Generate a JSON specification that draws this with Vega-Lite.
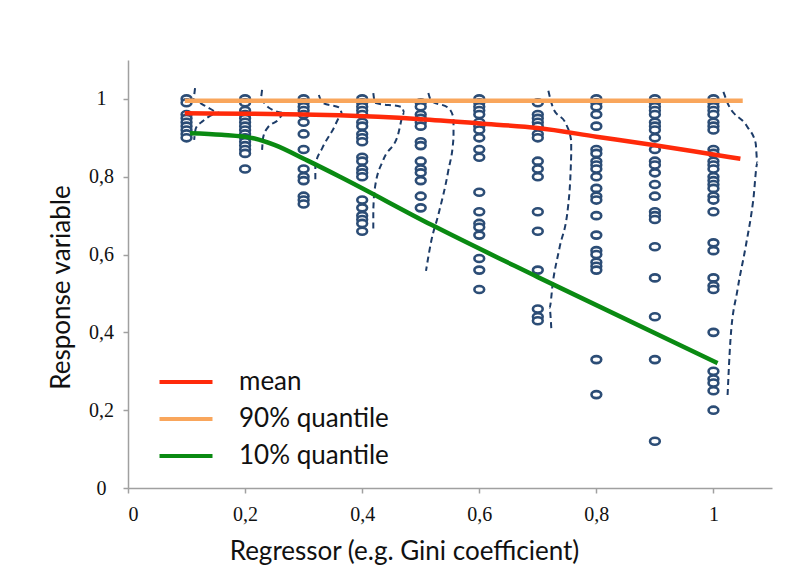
{
  "$schema": "https://vega.github.io/schema/vega-lite/v6.json",
  "width": 644,
  "height": 428,
  "autosize": {"type": "none"},
  "padding": {"left": 128, "top": 60, "right": 18, "bottom": 91},
  "background": "white",
  "config": {
    "view": {"stroke": null},
    "axis": {
      "grid": false,
      "domainColor": "#a0a0a0",
      "domainWidth": 1.5,
      "tickColor": "#a0a0a0",
      "tickWidth": 1.5,
      "tickSize": 5,
      "labelFont": "Liberation Serif",
      "labelFontSize": 20,
      "labelColor": "#111111",
      "titleFont": "Lato",
      "titleFontSize": 26,
      "titleFontWeight": "normal",
      "titleColor": "#111111"
    }
  },
  "datasets": {
    "pts": [
      {"x":0.1,"y":1.0},{"x":0.1,"y":0.99},{"x":0.1,"y":0.96},{"x":0.1,"y":0.95},{"x":0.1,"y":0.94},{"x":0.1,"y":0.93},{"x":0.1,"y":0.92},{"x":0.1,"y":0.91},{"x":0.1,"y":0.90},
      {"x":0.2,"y":1.0},{"x":0.2,"y":0.99},{"x":0.2,"y":0.97},{"x":0.2,"y":0.96},{"x":0.2,"y":0.95},{"x":0.2,"y":0.94},{"x":0.2,"y":0.93},{"x":0.2,"y":0.92},{"x":0.2,"y":0.91},{"x":0.2,"y":0.90},{"x":0.2,"y":0.89},{"x":0.2,"y":0.88},{"x":0.2,"y":0.87},{"x":0.2,"y":0.86},{"x":0.2,"y":0.82},
      {"x":0.3,"y":1.0},{"x":0.3,"y":0.99},{"x":0.3,"y":0.98},{"x":0.3,"y":0.97},{"x":0.3,"y":0.96},{"x":0.3,"y":0.94},{"x":0.3,"y":0.91},{"x":0.3,"y":0.87},{"x":0.3,"y":0.82},{"x":0.3,"y":0.80},{"x":0.3,"y":0.79},{"x":0.3,"y":0.75},{"x":0.3,"y":0.74},{"x":0.3,"y":0.73},
      {"x":0.4,"y":1.0},{"x":0.4,"y":0.99},{"x":0.4,"y":0.98},{"x":0.4,"y":0.97},{"x":0.4,"y":0.96},{"x":0.4,"y":0.94},{"x":0.4,"y":0.93},{"x":0.4,"y":0.91},{"x":0.4,"y":0.90},{"x":0.4,"y":0.89},{"x":0.4,"y":0.85},{"x":0.4,"y":0.84},{"x":0.4,"y":0.82},{"x":0.4,"y":0.81},{"x":0.4,"y":0.80},{"x":0.4,"y":0.74},{"x":0.4,"y":0.72},{"x":0.4,"y":0.70},{"x":0.4,"y":0.69},{"x":0.4,"y":0.68},{"x":0.4,"y":0.66},
      {"x":0.5,"y":0.99},{"x":0.5,"y":0.98},{"x":0.5,"y":0.96},{"x":0.5,"y":0.95},{"x":0.5,"y":0.94},{"x":0.5,"y":0.93},{"x":0.5,"y":0.89},{"x":0.5,"y":0.88},{"x":0.5,"y":0.84},{"x":0.5,"y":0.82},{"x":0.5,"y":0.81},{"x":0.5,"y":0.79},{"x":0.5,"y":0.75},{"x":0.5,"y":0.72},
      {"x":0.6,"y":1.0},{"x":0.6,"y":0.99},{"x":0.6,"y":0.98},{"x":0.6,"y":0.97},{"x":0.6,"y":0.96},{"x":0.6,"y":0.94},{"x":0.6,"y":0.93},{"x":0.6,"y":0.92},{"x":0.6,"y":0.90},{"x":0.6,"y":0.87},{"x":0.6,"y":0.85},{"x":0.6,"y":0.76},{"x":0.6,"y":0.71},{"x":0.6,"y":0.68},{"x":0.6,"y":0.67},{"x":0.6,"y":0.65},{"x":0.6,"y":0.59},{"x":0.6,"y":0.56},{"x":0.6,"y":0.51},
      {"x":0.7,"y":0.99},{"x":0.7,"y":0.96},{"x":0.7,"y":0.95},{"x":0.7,"y":0.94},{"x":0.7,"y":0.93},{"x":0.7,"y":0.91},{"x":0.7,"y":0.90},{"x":0.7,"y":0.84},{"x":0.7,"y":0.82},{"x":0.7,"y":0.80},{"x":0.7,"y":0.71},{"x":0.7,"y":0.66},{"x":0.7,"y":0.56},{"x":0.7,"y":0.46},{"x":0.7,"y":0.44},{"x":0.7,"y":0.43},
      {"x":0.8,"y":1.0},{"x":0.8,"y":0.99},{"x":0.8,"y":0.98},{"x":0.8,"y":0.96},{"x":0.8,"y":0.93},{"x":0.8,"y":0.87},{"x":0.8,"y":0.86},{"x":0.8,"y":0.84},{"x":0.8,"y":0.83},{"x":0.8,"y":0.82},{"x":0.8,"y":0.80},{"x":0.8,"y":0.77},{"x":0.8,"y":0.75},{"x":0.8,"y":0.74},{"x":0.8,"y":0.70},{"x":0.8,"y":0.65},{"x":0.8,"y":0.61},{"x":0.8,"y":0.60},{"x":0.8,"y":0.58},{"x":0.8,"y":0.57},{"x":0.8,"y":0.56},{"x":0.8,"y":0.33},{"x":0.8,"y":0.24},
      {"x":0.9,"y":1.0},{"x":0.9,"y":0.99},{"x":0.9,"y":0.98},{"x":0.9,"y":0.97},{"x":0.9,"y":0.96},{"x":0.9,"y":0.94},{"x":0.9,"y":0.93},{"x":0.9,"y":0.92},{"x":0.9,"y":0.90},{"x":0.9,"y":0.87},{"x":0.9,"y":0.84},{"x":0.9,"y":0.83},{"x":0.9,"y":0.81},{"x":0.9,"y":0.78},{"x":0.9,"y":0.75},{"x":0.9,"y":0.71},{"x":0.9,"y":0.70},{"x":0.9,"y":0.69},{"x":0.9,"y":0.62},{"x":0.9,"y":0.54},{"x":0.9,"y":0.44},{"x":0.9,"y":0.33},{"x":0.9,"y":0.12},
      {"x":1.0,"y":1.0},{"x":1.0,"y":0.99},{"x":1.0,"y":0.98},{"x":1.0,"y":0.97},{"x":1.0,"y":0.96},{"x":1.0,"y":0.94},{"x":1.0,"y":0.93},{"x":1.0,"y":0.92},{"x":1.0,"y":0.87},{"x":1.0,"y":0.86},{"x":1.0,"y":0.84},{"x":1.0,"y":0.83},{"x":1.0,"y":0.82},{"x":1.0,"y":0.80},{"x":1.0,"y":0.79},{"x":1.0,"y":0.78},{"x":1.0,"y":0.77},{"x":1.0,"y":0.75},{"x":1.0,"y":0.74},{"x":1.0,"y":0.71},{"x":1.0,"y":0.63},{"x":1.0,"y":0.61},{"x":1.0,"y":0.54},{"x":1.0,"y":0.52},{"x":1.0,"y":0.51},{"x":1.0,"y":0.40},{"x":1.0,"y":0.30},{"x":1.0,"y":0.28},{"x":1.0,"y":0.27},{"x":1.0,"y":0.25},{"x":1.0,"y":0.20}
    ],
    "curves": [
      {"c":1,"i":1,"x":0.1145,"y":1.028},{"c":1,"i":2,"x":0.111,"y":0.997},{"c":1,"i":3,"x":0.132,"y":0.982},{"c":1,"i":4,"x":0.157,"y":0.964},{"c":1,"i":5,"x":0.128,"y":0.943},{"c":1,"i":6,"x":0.116,"y":0.925},{"c":1,"i":7,"x":0.113,"y":0.895},
      {"c":2,"i":1,"x":0.229,"y":1.023},{"c":2,"i":2,"x":0.226,"y":0.997},{"c":2,"i":3,"x":0.240,"y":0.978},{"c":2,"i":4,"x":0.268,"y":0.964},{"c":2,"i":5,"x":0.255,"y":0.944},{"c":2,"i":6,"x":0.238,"y":0.925},{"c":2,"i":7,"x":0.231,"y":0.902},{"c":2,"i":8,"x":0.229,"y":0.869},
      {"c":3,"i":1,"x":0.326,"y":1.010},{"c":3,"i":2,"x":0.332,"y":0.990},{"c":3,"i":3,"x":0.362,"y":0.977},{"c":3,"i":4,"x":0.366,"y":0.960},{"c":3,"i":5,"x":0.349,"y":0.918},{"c":3,"i":6,"x":0.332,"y":0.874},{"c":3,"i":7,"x":0.320,"y":0.830},{"c":3,"i":8,"x":0.320,"y":0.789},
      {"c":4,"i":1,"x":0.419,"y":1.015},{"c":4,"i":2,"x":0.422,"y":0.990},{"c":4,"i":3,"x":0.468,"y":0.979},{"c":4,"i":4,"x":0.472,"y":0.964},{"c":4,"i":5,"x":0.460,"y":0.902},{"c":4,"i":6,"x":0.436,"y":0.843},{"c":4,"i":7,"x":0.422,"y":0.774},{"c":4,"i":8,"x":0.419,"y":0.715},{"c":4,"i":9,"x":0.419,"y":0.656},
      {"c":5,"i":1,"x":0.513,"y":1.015},{"c":5,"i":2,"x":0.518,"y":0.995},{"c":5,"i":3,"x":0.547,"y":0.977},{"c":5,"i":4,"x":0.556,"y":0.951},{"c":5,"i":5,"x":0.556,"y":0.900},{"c":5,"i":6,"x":0.547,"y":0.815},{"c":5,"i":7,"x":0.530,"y":0.702},{"c":5,"i":8,"x":0.518,"y":0.635},{"c":5,"i":9,"x":0.509,"y":0.558},
      {"c":6,"i":1,"x":0.718,"y":1.021},{"c":6,"i":2,"x":0.726,"y":0.977},{"c":6,"i":3,"x":0.749,"y":0.933},{"c":6,"i":4,"x":0.757,"y":0.892},{"c":6,"i":5,"x":0.757,"y":0.856},{"c":6,"i":6,"x":0.752,"y":0.728},{"c":6,"i":7,"x":0.737,"y":0.617},{"c":6,"i":8,"x":0.726,"y":0.532},{"c":6,"i":9,"x":0.720,"y":0.463},{"c":6,"i":10,"x":0.723,"y":0.411},
      {"c":7,"i":1,"x":1.017,"y":1.018},{"c":7,"i":2,"x":1.024,"y":0.990},{"c":7,"i":3,"x":1.058,"y":0.928},{"c":7,"i":4,"x":1.072,"y":0.887},{"c":7,"i":5,"x":1.075,"y":0.835},{"c":7,"i":6,"x":1.068,"y":0.740},{"c":7,"i":7,"x":1.055,"y":0.620},{"c":7,"i":8,"x":1.041,"y":0.509},{"c":7,"i":9,"x":1.029,"y":0.380},{"c":7,"i":10,"x":1.024,"y":0.234}
    ],
    "stats": [
      {"series":"mean","x":0.097,"y":0.963},{"series":"mean","x":0.2,"y":0.962},{"series":"mean","x":0.3,"y":0.960},{"series":"mean","x":0.36,"y":0.958},{"series":"mean","x":0.5,"y":0.948},{"series":"mean","x":0.6,"y":0.937},{"series":"mean","x":0.7,"y":0.925},{"series":"mean","x":0.8,"y":0.903},{"series":"mean","x":0.9,"y":0.881},{"series":"mean","x":1.0,"y":0.857},{"series":"mean","x":1.046,"y":0.846},
      {"series":"90% quantile","x":0.097,"y":0.995},{"series":"90% quantile","x":1.05,"y":0.995},
      {"series":"10% quantile","x":0.106,"y":0.912},{"series":"10% quantile","x":0.16,"y":0.908},{"series":"10% quantile","x":0.214,"y":0.899},{"series":"10% quantile","x":0.25,"y":0.882},{"series":"10% quantile","x":0.306,"y":0.842},{"series":"10% quantile","x":0.362,"y":0.800},{"series":"10% quantile","x":0.52,"y":0.675},{"series":"10% quantile","x":0.70,"y":0.542},{"series":"10% quantile","x":1.007,"y":0.321}
    ]
  },
  "encoding": {
    "x": {
      "field": "x", "type": "quantitative",
      "scale": {"domain": [0, 1.1], "nice": false, "zero": false},
      "axis": {
        "title": "Regressor (e.g. Gini coefficient)",
        "values": [0, 0.2, 0.4, 0.6, 0.8, 1],
        "labelExpr": "replace(format(datum.value, '~g'), '.', ',')",
        "labelPadding": 11,
        "titleAnchor": null,
        "titleX": 276,
        "titleY": 50
      }
    },
    "y": {
      "field": "y", "type": "quantitative",
      "scale": {"domain": [0, 1.1], "nice": false, "zero": false},
      "axis": {
        "title": "Response variable",
        "values": [0, 0.2, 0.4, 0.6, 0.8, 1],
        "labelExpr": "replace(format(datum.value, '~g'), '.', ',')",
        "labelAlign": "center",
        "labelPadding": 22,
        "titleAnchor": null,
        "titleX": -54,
        "titleY": 227
      }
    }
  },
  "layer": [
    {
      "data": {"name": "pts"},
      "mark": {
        "type": "point",
        "shape": "M -1 0 A 1 0.72 0 1 0 1 0 A 1 0.72 0 1 0 -1 0 Z",
        "size": 95,
        "filled": false,
        "fill": "white",
        "fillOpacity": 1,
        "stroke": "#2c4d76",
        "strokeWidth": 2.6,
        "opacity": 1
      }
    },
    {
      "data": {"name": "curves"},
      "mark": {"type": "line", "color": "#1d3c68", "strokeWidth": 2, "strokeDash": [6, 4], "interpolate": "monotone"},
      "encoding": {
        "detail": {"field": "c"},
        "order": {"field": "i", "type": "quantitative"}
      }
    },
    {
      "data": {"name": "stats"},
      "mark": {"type": "line", "strokeWidth": 4.5, "interpolate": "monotone"},
      "encoding": {
        "color": {
          "field": "series", "type": "nominal",
          "scale": {"domain": ["mean", "90% quantile", "10% quantile"], "range": ["#ff2a0a", "#f9a65c", "#0a8a12"]},
          "legend": {
            "title": null,
            "orient": "none",
            "legendX": 45,
            "legendY": 309,
            "padding": 0,
            "symbolType": "M -3 0 L 3 0",
            "symbolSize": 312,
            "symbolStrokeWidth": 4,
            "labelFont": "Lato",
            "labelFontSize": 26,
            "labelColor": "#111111",
            "labelOffset": 40,
            "rowPadding": 11,
            "labelLimit": 300
          }
        }
      }
    }
  ]
}
